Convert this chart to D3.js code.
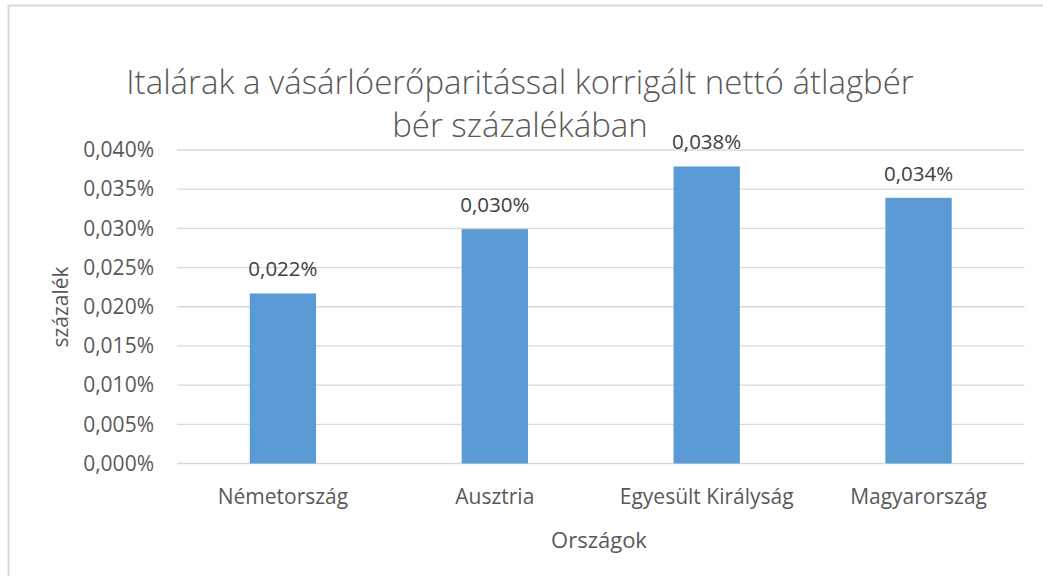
<!DOCTYPE html>
<html><head><meta charset="utf-8">
<script src="https://cdn.jsdelivr.net/npm/d3@7"></script>
<style>body{margin:0;background:#fff;}svg{display:block;font-family:"Open Sans",sans-serif;}</style>
</head><body>
<script>
const categories = ["Németország","Ausztria","Egyesült Királyság","Magyarország"];
const values = [0.0217, 0.0299, 0.0379, 0.0339];
const dataLabels = ["0,022%","0,030%","0,038%","0,034%"];
const yTicks = [0,0.005,0.010,0.015,0.020,0.025,0.030,0.035,0.040];
const yTickLabels = ["0,000%","0,005%","0,010%","0,015%","0,020%","0,025%","0,030%","0,035%","0,040%"];
const titleLines = ["Italárak a vásárlóerőparitással korrigált nettó átlagbér","bér százalékában"];
const xTitle = "Országok", yTitle = "százalék";

const W=1043,H=576;
const svg=d3.select("body").append("svg").attr("width",W).attr("height",H);
svg.append("rect").attr("x",8.5).attr("y",5.5).attr("width",1100).attr("height",700).attr("fill","#fff").attr("stroke","#D9D9D9").attr("stroke-width",2);

const x=d3.scaleBand().domain(categories).range([177,1024.5]).paddingInner(0.687).paddingOuter(0.3435);
const y=d3.scaleLinear().domain([0,0.04]).range([463.5,150]);
const txt="#595959";

svg.append("g").selectAll("line").data(yTicks).join("line")
  .attr("x1",177).attr("x2",1024.5).attr("y1",d=>y(d)).attr("y2",d=>y(d))
  .attr("stroke","#D9D9D9").attr("stroke-width",1.3);

const yAxis=d3.axisLeft(y).tickValues(yTicks).tickFormat((d,i)=>yTickLabels[i]).tickSize(0).tickPadding(23);
const gy=svg.append("g").attr("transform","translate(177,0)").call(yAxis);
gy.select(".domain").remove();
gy.selectAll("text").attr("fill",txt).style("font-size","21px").style("font-family","Open Sans");

svg.append("g").selectAll("rect").data(values).join("rect")
  .attr("x",(d,i)=>x(categories[i])).attr("width",x.bandwidth())
  .attr("y",d=>y(d)).attr("height",d=>y(0)-y(d)).attr("fill","#5B9BD5");

svg.append("g").selectAll("text").data(values).join("text")
  .attr("x",(d,i)=>x(categories[i])+x.bandwidth()/2).attr("y",d=>y(d)-17)
  .attr("text-anchor","middle").attr("fill","#404040").style("font-size","20.5px").text((d,i)=>dataLabels[i]);

const xAxis=d3.axisBottom(x).tickSize(0).tickPadding(26);
const gx=svg.append("g").attr("transform","translate(0,463.5)").call(xAxis);
gx.select(".domain").remove();
gx.selectAll("text").attr("fill",txt).style("font-size","21px").style("font-family","Open Sans");

svg.append("text").attr("x",599).attr("y",548).attr("text-anchor","middle").attr("fill",txt).style("font-size","22px").text(xTitle);
svg.append("text").attr("transform","translate(68,307) rotate(-90)").attr("text-anchor","middle").attr("fill",txt).style("font-size","21px").text(yTitle);

svg.append("g").selectAll("text").data(titleLines).join("text")
  .attr("x",520).attr("y",(d,i)=>94+i*43).attr("text-anchor","middle").attr("fill",txt)
  .style("font-size","33px").style("font-weight",300).text(d=>d);
</script>
</body></html>
